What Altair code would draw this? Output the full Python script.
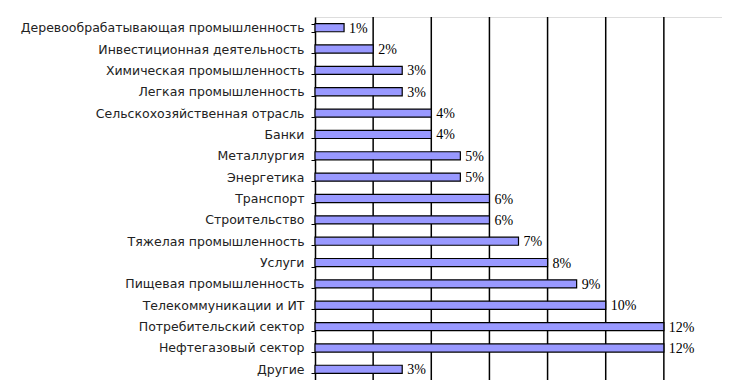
import altair as alt
import pandas as pd

categories = [
    "Деревообрабатывающая промышленность",
    "Инвестиционная деятельность",
    "Химическая промышленность",
    "Легкая промышленность",
    "Сельскохозяйственная отрасль",
    "Банки",
    "Металлургия",
    "Энергетика",
    "Транспорт",
    "Строительство",
    "Тяжелая промышленность",
    "Услуги",
    "Пищевая промышленность",
    "Телекоммуникации и ИТ",
    "Потребительский сектор",
    "Нефтегазовый сектор",
    "Другие",
]
values = [1, 2, 3, 3, 4, 4, 5, 5, 6, 6, 7, 8, 9, 10, 12, 12, 3]
grid_values = [2, 4, 6, 8, 10, 12]

df = pd.DataFrame({"cat": categories, "val": values})
df["label"] = df["val"].astype(str) + "%"
grid = pd.DataFrame({"g": grid_values})

xscale = alt.Scale(domain=[0, 14], nice=False, zero=True)
yenc = alt.Y(
    "cat:N",
    sort=categories,
    scale=alt.Scale(paddingInner=0.62, paddingOuter=0.31),
    axis=alt.Axis(
        title=None,
        labelFont="DejaVu Sans",
        labelFontSize=12.5,
        labelColor="#222222",
        labelPadding=7,
        tickColor="#000000",
        tickSize=4,
        tickBand="extent",
        domainColor="#000000",
        domainWidth=1.5,
        labelLimit=400,
        grid=False,
    ),
)

rules = alt.Chart(grid).mark_rule(color="#000000", strokeWidth=1.5).encode(
    x=alt.X("g:Q", scale=xscale, axis=None)
)

bars = alt.Chart(df).mark_bar(
    color="#9999FF", stroke="#000000", strokeWidth=1.2
).encode(
    x=alt.X("val:Q", scale=xscale, axis=None),
    y=yenc,
)

text = alt.Chart(df).mark_text(
    align="left", baseline="middle", dx=5, dy=1,
    font="Liberation Serif", fontSize=14, color="#000000"
).encode(
    x=alt.X("val:Q", scale=xscale, axis=None),
    y=alt.Y("cat:N", sort=categories),
    text="label:N",
)

chart = alt.layer(rules, bars, text).properties(
    width=407,
    height=363,
    autosize=alt.AutoSizeParams(type="none"),
    padding={"left": 307, "top": 9, "right": 0, "bottom": 0},
).configure_view(
    stroke=None, fill="#FDFDFD"
).configure(background="#FFFFFF")

chart.save("out.html", embed_options={"renderer": "svg", "actions": False})
